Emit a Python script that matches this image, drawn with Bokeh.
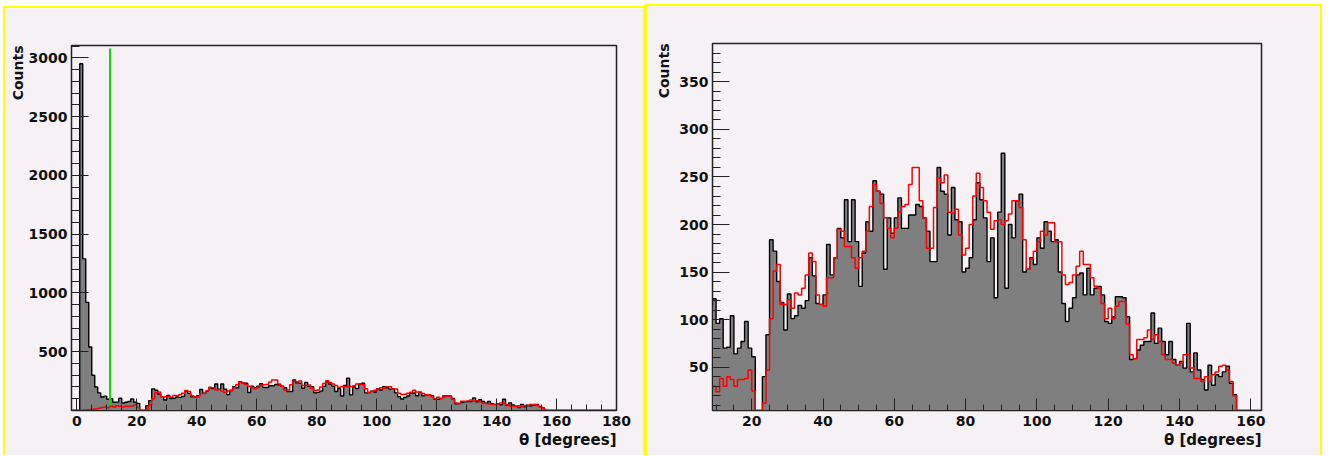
import numpy as np
from bokeh.plotting import figure
from bokeh.layouts import row
from bokeh.models import FixedTicker, Range1d, Title
from bokeh.embed import file_html
from bokeh.resources import INLINE

# ---------------- data (1-degree bins, first bin starts at -2 deg) ----------------
theta_first_edge = -2
bin_width = 1

# black (grey filled) histogram, counts per bin, bins -2..179 deg
black_counts = [
    0, 0, 0, 2950, 1290, 920, 540, 300, 200, 150,        # -2 .. 7
    115, 122, 96, 101, 70, 71, 104, 64, 70, 77,           # 8 .. 17
    98, 70, 61, 0, 0, 40, 84, 184, 172, 140,              # 18 .. 27
    118, 89, 127, 101, 104, 115, 112, 120, 165, 146,      # 28 .. 37
    117, 116, 126, 179, 147, 165, 196, 186, 226, 182,     # 38 .. 47
    226, 182, 135, 170, 203, 193, 246, 235, 232, 153,     # 48 .. 57
    207, 191, 207, 228, 196, 196, 210, 210, 221, 219,     # 58 .. 67
    207, 193, 161, 161, 260, 235, 232, 189, 239, 205,     # 68 .. 77
    203, 150, 154, 165, 205, 244, 226, 207, 161, 186,     # 78 .. 87
    123, 213, 275, 133, 200, 186, 225, 232, 150, 153,     # 88 .. 97
    165, 158, 186, 175, 203, 193, 182, 184, 150, 117,     # 98 .. 107
    98, 112, 123, 147, 149, 126, 154, 126, 133, 135,      # 108 .. 117
    126, 98, 96, 103, 124, 124, 123, 103, 58, 59,         # 118 .. 127
    68, 73, 77, 77, 107, 75, 91, 77, 63, 77,              # 128 .. 137
    58, 52, 56, 49, 96, 45, 65, 47, 37, 26,               # 138 .. 147
    52, 31, 42, 40, 45, 51, 33, 21, 0, 0,                 # 148 .. 157
    0, 0, 0, 0, 0, 0, 0, 0, 0, 0,                         # 158 .. 167
    0, 0, 0, 0, 0, 0, 0, 0, 0, 0,                         # 168 .. 177
    0, 0,                                                 # 178 .. 179
]

# red (outline only) histogram, counts per bin, bins -2..179 deg
red_counts = [
    0, 0, 0, 3, 5, 6, 8, 10, 12, 20,                      # -2 .. 7
    25, 30, 24, 38, 30, 40, 37, 30, 37, 37,               # 8 .. 17
    38, 47, 25, 0, 0, 12, 47, 101, 151, 158,              # 18 .. 27
    116, 116, 121, 112, 128, 126, 133, 147, 170, 161,     # 28 .. 37
    126, 116, 114, 144, 144, 165, 195, 193, 177, 177,     # 38 .. 47
    165, 154, 165, 172, 193, 219, 242, 235, 222, 207,     # 48 .. 57
    196, 186, 196, 213, 219, 221, 242, 260, 260, 225,     # 58 .. 67
    207, 175, 175, 218, 249, 244, 252, 213, 212, 216,     # 68 .. 77
    189, 168, 175, 200, 230, 254, 239, 225, 213, 195,     # 78 .. 87
    204, 205, 200, 204, 211, 225, 225, 218, 184, 153,     # 88 .. 97
    164, 172, 182, 193, 189, 202, 202, 182, 182, 147,     # 98 .. 107
    137, 139, 147, 156, 172, 158, 158, 144, 135, 133,     # 108 .. 117
    117, 101, 112, 101, 114, 119, 119, 95, 63, 59,        # 118 .. 127
    79, 79, 81, 89, 79, 84, 77, 63, 58, 58,               # 128 .. 137
    54, 52, 54, 63, 63, 49, 38, 38, 35, 40,               # 138 .. 147
    35, 42, 45, 51, 52, 47, 35, 20, 0, 0,                 # 148 .. 157
    0, 0, 0, 0, 0, 0, 0, 0, 0, 0,                         # 158 .. 167
    0, 0, 0, 0, 0, 0, 0, 0, 0, 0,                         # 168 .. 177
    0, 0,                                                 # 178 .. 179
]

# green cut line (left panel)
cut_theta = [11.1, 11.1]
cut_counts = [45, 3080]

# axes
left_xrange = (-1.75, 180.0)
left_yrange = (0.0, 3105.0)
right_xrange = (9.0, 163.0)
right_yrange = (4.4, 390.4)

left_xticks = [0, 20, 40, 60, 80, 100, 120, 140, 160, 180]
left_yticks = [500, 1000, 1500, 2000, 2500, 3000]
right_xticks = [20, 40, 60, 80, 100, 120, 140, 160]
right_yticks = [50, 100, 150, 200, 250, 300, 350]

x_title = "θ [degrees]"
y_title = "Counts"

# ---------------- style ----------------
BG = "#f5f1f5"
YELLOW = "#ffff00"
GREY = "#7f7f7f"
FONT = "DejaVu Sans"


def make_panel(xr, yr, w, h, margin, mb_left, mb_right, mb_top, mb_bottom,
               xticks, xminor, yticks, yminor, ytitle_standoff, styles):
    p = figure(width=w, height=h, x_range=Range1d(*xr), y_range=Range1d(*yr),
               output_backend="svg", toolbar_location=None, tools="",
               min_border_left=mb_left, min_border_right=mb_right,
               min_border_top=mb_top, min_border_bottom=mb_bottom,
               background_fill_color=BG, border_fill_color=BG,
               outline_line_color="#222222", outline_line_width=1.5,
               styles=styles, margin=margin)
    p.grid.visible = False

    edges = theta_first_edge + bin_width * np.arange(len(black_counts) + 1)
    blk = np.append(np.array(black_counts, dtype=float), 0.0)
    red = np.append(np.maximum(np.array(red_counts, dtype=float), yr[0]), yr[0])

    p.varea_step(x=edges, y1=0, y2=blk, step_mode="after", fill_color=GREY)
    p.step(x=edges, y=blk, mode="after", line_color="#000000", line_width=1.4)
    p.step(x=edges, y=red, mode="after", line_color="#ff0000", line_width=1.5)

    p.xaxis.ticker = FixedTicker(ticks=xticks, minor_ticks=xminor)
    p.yaxis.ticker = FixedTicker(ticks=yticks, minor_ticks=yminor)
    for ax, tin in ((p.xaxis, 12), (p.yaxis, 17)):
        ax.major_tick_in = tin
        ax.major_tick_out = 0
        ax.minor_tick_in = tin // 2
        ax.minor_tick_out = 0
        ax.axis_line_color = "#222222"
        ax.major_tick_line_color = "#222222"
        ax.minor_tick_line_color = "#222222"
        ax.major_label_text_font = FONT
        ax.major_label_text_font_style = "bold"
        ax.major_label_text_font_size = "14px"
        ax.major_label_text_color = "#111111"
    p.xaxis.major_label_standoff = 5
    p.yaxis.major_label_standoff = 4

    p.add_layout(Title(text=y_title, align="right", standoff=ytitle_standoff,
                       text_font=FONT, text_font_style="bold", text_font_size="14px",
                       text_color="#111111"), "left")
    p.add_layout(Title(text=x_title, align="right", standoff=0,
                       text_font=FONT, text_font_style="bold", text_font_size="15px",
                       text_color="#111111"), "below")
    return p


border = f"2px solid {YELLOW}"
left_styles = {"box-sizing": "content-box", "border-top": border,
               "border-left": border, "border-right": border}
right_styles = {"box-sizing": "content-box", "border-top": border,
                "border-left": border, "border-right": border}

p1 = make_panel(left_xrange, left_yrange, 638, 447, (6, 0, 0, 3), 66, 31, 36, 47,
                left_xticks, list(range(0, 181, 5)),
                left_yticks, list(range(100, 3101, 100)), 0, left_styles)
p1.line(cut_theta, cut_counts, line_color="#00e000", line_width=2)

p2 = make_panel(right_xrange, right_yrange, 673, 449, (4, 0, 0, 0), 65, 63, 37, 46,
                right_xticks, list(range(10, 161, 5)),
                right_yticks, list(range(10, 391, 10)), 9, right_styles)

layout = row(p1, p2, spacing=0)

open("out.html", "w").write(file_html(layout, INLINE))
